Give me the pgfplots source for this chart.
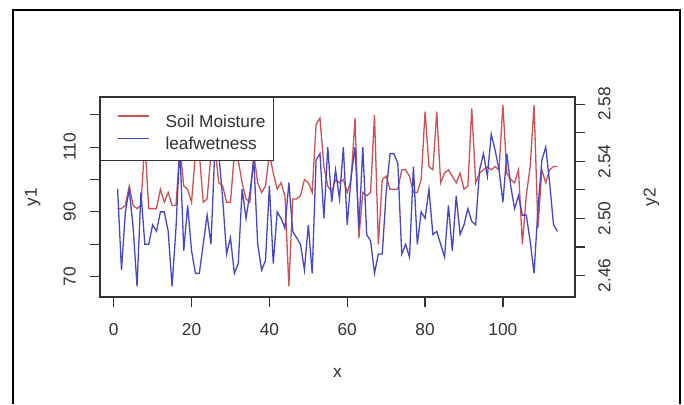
\documentclass[border=0pt]{standalone}
\usepackage{fontspec}
\setmainfont{Liberation Sans}
\usepackage{pgfplots}
\usepackage{pgfplotstable}
\pgfplotsset{compat=1.18}

\definecolor{soil}{RGB}{205,80,84}
\definecolor{leaf}{RGB}{70,70,200}
\definecolor{frame}{RGB}{50,50,50}

% x, soil moisture, leaf wetness (leaf wetness drawn in y1 units)
\pgfplotstableread{
x soil leaf
1 91 97
2 91 72
3 92 90
4 98 97
5 92 85
6 91 67
7 92 96
8 112 80
9 91 80
10 91 86
11 91 84
12 97 90
13 93 90
14 96 84
15 92 67
16 92 85
17 110 110
18 98 78
19 97 92
20 93 78
21 108 71
22 108 71
23 93 80
24 94 89
25 108 80
26 110 110
27 99 108
28 98 94
29 93 77
30 93 82
31 108 71
32 106 74
33 99 97
34 94 88
35 93 96
36 108 106
37 99 80
38 96 72
39 98 75
40 108 98
41 102 74
42 97 90
43 99 88
44 95 85
45 67 99
46 94 84
47 94 82
48 95 80
49 100 72
50 99 86
51 96 71
52 117 106
53 119 108
54 104 88
55 98 110
56 96 93
57 100 103
58 99 94
59 100 110
60 96 86
61 100 101
62 119 110
63 82 85
64 96 110
65 95 83
66 96 81
67 120 71
68 80 77
69 100 77
70 101 96
71 97 108
72 97 108
73 97 105
74 103 77
75 103 80
76 101 76
77 96 104
78 96 80
79 100 90
80 121 88
81 104 97
82 103 83
83 121 84
84 99 80
85 102 76
86 103 92
87 101 78
88 99 95
89 102 83
90 97 86
91 98 91
92 122 87
93 99 86
94 102 103
95 103 108
96 104 101
97 103 114
98 104 109
99 103 103
100 123 93
101 102 108
102 100 98
103 99 91
104 103 95
105 80 89
106 95 89
107 104 81
108 123 71
109 85 91
110 103 106
111 99 110
112 103 99
113 104 86
114 104 84
}\moisture

\begin{document}
\begin{tikzpicture}[font=\fontsize{17.3pt}{20pt}\selectfont]
\useasboundingbox (0,0) rectangle (684pt,404pt);
\draw[line width=2pt] (13pt,0pt) -- (13pt,394pt) -- (680pt,394pt) -- (680pt,0pt);

\begin{axis}[
    at={(100pt,107pt)}, anchor=south west,
    width=475pt, height=200pt, scale only axis,
    xmin=-3.52, xmax=118.52,
    ymin=63.7, ymax=125.5,
    axis line style={frame, line width=1.2pt},
    tick pos=left, tick align=outside,
    major tick length=10pt,
    tick style={frame, line width=1.2pt},
    xtick={0,20,40,60,80,100},
    xticklabels={0,20,40,60,80,100},
    ytick={70,80,90,100,110,120},
    yticklabels={70,,90,,110,},
    xticklabel style={inner sep=0pt, anchor=north, text=frame},
    xticklabel shift=16pt,
    yticklabel style={inner sep=0pt, rotate=90, anchor=south, text=frame},
    yticklabel shift=14pt,
    xlabel={x}, ylabel={y1},
    xlabel style={at={(axis description cs:0.5,-0.3785)}, anchor=center, text=frame},
    ylabel style={at={(axis description cs:-0.1417,0.5)}, anchor=center, text=frame},
    legend style={at={(axis description cs:0,1)}, anchor=north west,
        draw=frame, line width=1.2pt, fill=white,
        inner xsep=8pt, inner ysep=9pt,
        nodes={inner sep=0pt, text height=20.7pt, text depth=1.9pt, text=frame},
        column sep=16pt, row sep=0pt},
    legend cell align=left,
    legend image code/.code={
        \path (0pt,-1.1pt) (39.6pt,7.1pt);
        \draw[#1] (9pt,1.8pt) -- (39.6pt,1.8pt);
    },
]
\addplot[soil, line width=1.3pt] table[x=x, y=soil] {\moisture};
\addplot[leaf, line width=1.3pt] table[x=x, y=leaf] {\moisture};
\legend{Soil Moisture, leafwetness}
\end{axis}

\begin{axis}[
    at={(100pt,107pt)}, anchor=south west,
    width=475pt, height=200pt, scale only axis,
    xmin=-3.52, xmax=118.52,
    ymin=2.445, ymax=2.585,
    axis x line=none, axis y line*=right,
    axis line style={frame, line width=1.2pt, -},
    tick align=outside, major tick length=10pt,
    tick style={frame, line width=1.2pt},
    ytick={2.46,2.48,2.50,2.52,2.54,2.56,2.58},
    yticklabels={2.46,,2.50,,2.54,,2.58},
    yticklabel style={inner sep=0pt, rotate=90, anchor=north, text=frame},
    yticklabel shift=13pt,
    ylabel={y2},
    ylabel style={at={(axis description cs:1.161,0.5)}, anchor=center, text=frame},
]
\end{axis}
\end{tikzpicture}
\end{document}
